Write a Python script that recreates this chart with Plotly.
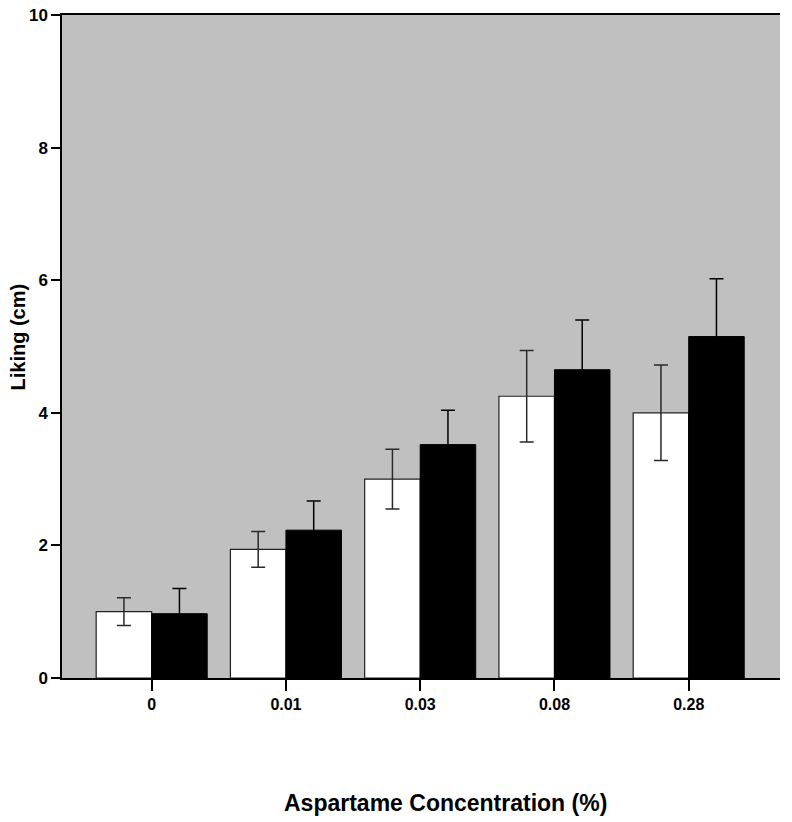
import plotly.graph_objects as go

categories = ["0", "0.01", "0.03", "0.08", "0.28"]
white_values = [1.00, 1.94, 3.00, 4.25, 4.00]
white_err = [0.21, 0.27, 0.45, 0.69, 0.72]
black_values = [0.97, 2.23, 3.52, 4.65, 5.15]
black_err = [0.38, 0.44, 0.52, 0.75, 0.87]
y_ticks = [0, 2, 4, 6, 8, 10]

fig = go.Figure()
fig.add_trace(go.Bar(
    x=categories, y=white_values, name="white",
    marker=dict(color="white", line=dict(color="#222222", width=1.2)),
    error_y=dict(type="data", array=white_err, visible=True, color="#2a2a2a", thickness=1.5, width=7),
))
fig.add_trace(go.Bar(
    x=categories, y=black_values, name="black",
    marker=dict(color="black", line=dict(color="black", width=1)),
    error_y=dict(type="data", array=black_err, visible=True, color="#000000", thickness=1.5, width=7),
))

fig.update_layout(
    width=792, height=822,
    margin=dict(l=62, r=12, t=14.5, b=143.5, autoexpand=False),
    plot_bgcolor="#c0c0c0", paper_bgcolor="white",
    barmode="group", bargap=0.173, bargroupgap=0,
    showlegend=False,
    font=dict(family="Liberation Sans", color="black"),
    annotations=[
        dict(text="<b>Aspartame Concentration (%)</b>", xref="paper", yref="paper",
             x=0.5, y=-0.188, yanchor="middle", xanchor="center", showarrow=False,
             xshift=24, font=dict(size=23, family="Liberation Sans", color="black")),
        dict(text="<b>Liking (cm)</b>", xref="paper", yref="paper",
             x=0, y=0.5, xshift=-45, textangle=-90, xanchor="center", yanchor="middle",
             showarrow=False, yshift=9, font=dict(size=20, family="Liberation Sans", color="black")),
    ],
)
fig.update_xaxes(
    type="category", range=[-0.668, 4.68], automargin=False,
    showline=True, linecolor="black", linewidth=1.5, mirror=True,
    ticks="outside", ticklen=11, tickwidth=1.5, tickcolor="black",
    tickfont=dict(family="Liberation Sans", size=16, color="black", weight="bold"),
    showgrid=False,
)
fig.update_yaxes(
    range=[0, 10], tickvals=y_ticks, automargin=False,
    showline=True, linecolor="black", linewidth=1.5,
    ticks="outside", ticklen=9, tickwidth=1.5, tickcolor="black",
    tickfont=dict(family="Liberation Sans", size=17, color="black", weight="bold"),
    showgrid=False, zeroline=False,
)

fig.write_html("out.html", config={"displayModeBar": False},
               post_script="document.body.style.margin='0';")
